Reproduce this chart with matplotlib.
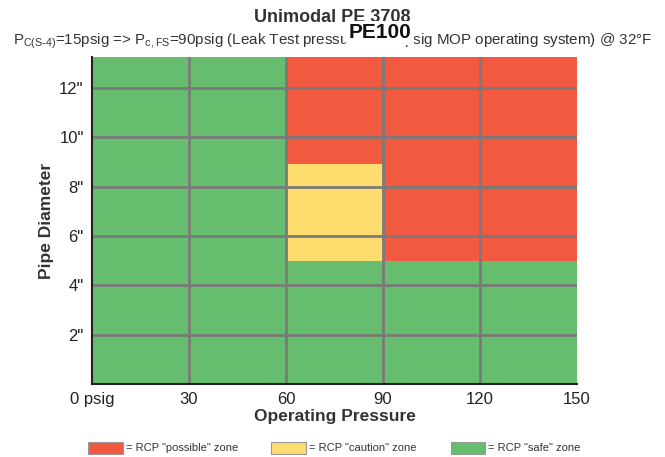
import matplotlib
matplotlib.use("Agg")
import matplotlib.pyplot as plt
from matplotlib.patches import Rectangle
from matplotlib import font_manager

fams = {f.name for f in font_manager.fontManager.ttflist}
FONT = "Liberation Sans Narrow" if "Liberation Sans Narrow" in fams else "Liberation Sans"
plt.rcParams['font.family'] = [FONT, 'DejaVu Sans']

# Data
col_start = [0, 60, 90]
col_end = [60, 90, 150]
safe_top = [13.25, 5.0, 5.0]
caution_top = [13.25, 8.9, 5.0]
y_max = 13.25
x_ticks = [0, 30, 60, 90, 120, 150]
x_labels = ["0 psig", "30", "60", "90", "120", "150"]
y_ticks = [2, 4, 6, 8, 10, 12]
y_labels = ['2"', '4"', '6"', '8"', '10"', '12"']

C_RED = "#F15A40"
C_YEL = "#FEDC6E"
C_GRN = "#66BD6E"
C_GRID = "#7a7a7a"

fig = plt.figure(figsize=(6.65, 4.57), dpi=100)
ax = fig.add_axes([0.1383, 0.1597, 0.7293, 0.7155])

widths = [e - s for s, e in zip(col_start, col_end)]
caution_h = [c - s for c, s in zip(caution_top, safe_top)]
poss_h = [y_max - c for c in caution_top]
ax.bar(col_start, safe_top, width=widths, align='edge', color=C_GRN, linewidth=0)
ax.bar(col_start, caution_h, bottom=safe_top, width=widths, align='edge', color=C_YEL, linewidth=0)
ax.bar(col_start, poss_h, bottom=caution_top, width=widths, align='edge', color=C_RED, linewidth=0)

for xv in x_ticks[1:-1]:
    ax.axvline(xv, color=C_GRID, lw=2, zorder=3)
for yv in y_ticks:
    ax.axhline(yv, color=C_GRID, lw=2, zorder=3)

ax.set_xlim(0, 150)
ax.set_ylim(0, y_max)
ax.set_xticks(x_ticks)
ax.set_xticklabels(x_labels, fontsize=12, color="#222")
ax.set_yticks(y_ticks)
ax.set_yticklabels(y_labels, fontsize=12, color="#222")
ax.tick_params(axis='x', length=0, pad=6)
ax.tick_params(axis='y', length=0, pad=6)
for s in ['top', 'right']:
    ax.spines[s].set_visible(False)
for s in ['left', 'bottom']:
    ax.spines[s].set_linewidth(1.5)
    ax.spines[s].set_color("#222")
    ax.spines[s].set_zorder(4)

ax.set_xlabel("Operating Pressure", fontsize=12.5, fontweight='bold', color="#333", labelpad=1)
ax.set_ylabel("Pipe Diameter", fontsize=12.5, fontweight='bold', color="#333", labelpad=4)

# Titles
fig.text(0.5, 0.962, "Unimodal PE 3708", ha='center', va='center', fontsize=13, fontweight='bold', color="#333")
fig.text(0.5, 0.910, r"P$_{\mathregular{C(S\text{-}4)}}$=15psig => P$_{\mathregular{c,FS}}$=90psig (Leak Test pressure for 60psig MOP operating system) @ 32°F",
         ha='center', va='center', fontsize=10.9, color="#333")
fig.text(0.572, 0.928, "PE100", ha='center', va='center', fontsize=15, fontweight='bold', color="#111",
         bbox=dict(facecolor='white', edgecolor='none', pad=2.0))

# Legend
items = [(C_RED, '= RCP "possible" zone', 0.133), (C_YEL, '= RCP "caution" zone', 0.408), (C_GRN, '= RCP "safe" zone', 0.678)]
for col, lab, xf in items:
    fig.patches.append(Rectangle((xf, 0.006), 0.052, 0.026, transform=fig.transFigure,
                                 facecolor=col, edgecolor="#999", lw=0.8))
    fig.text(xf + 0.056, 0.019, lab, ha='left', va='center', fontsize=8, color="#333")

fig.savefig("out.png", dpi=100)
